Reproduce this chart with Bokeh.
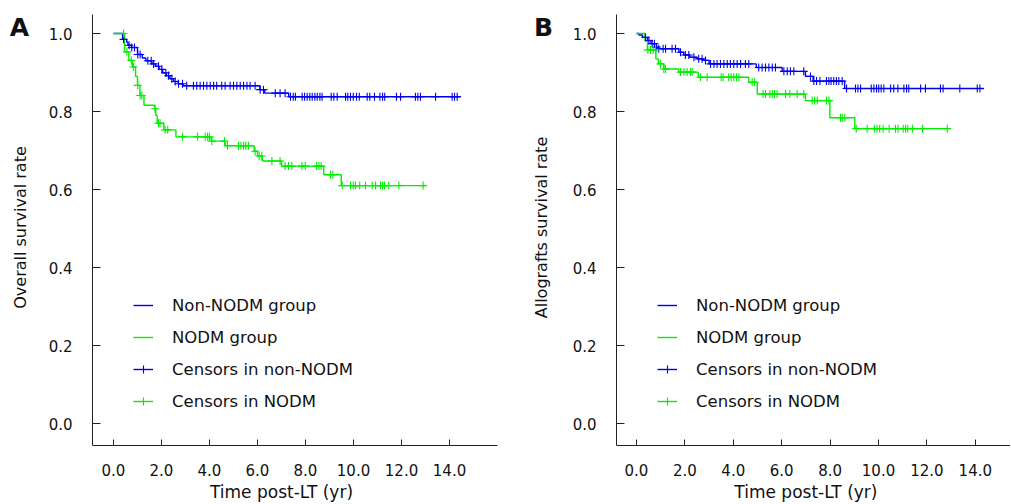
import numpy as np
from bokeh.plotting import figure
from bokeh.layouts import row
from bokeh.models import Range1d, FixedTicker, NumeralTickFormatter, Legend, LegendItem, Label
from bokeh.embed import file_html
from bokeh.resources import INLINE

# ---------------- data ----------------
# Panel A: overall survival
a_non_t = [0, 0.38, 0.55, 0.6, 0.75, 1.0, 1.2, 1.35, 1.6, 1.75, 1.9, 2.05, 2.2, 2.35, 2.5, 2.7, 2.9, 6.1, 6.3, 7.3]
a_non_s = [1.0, 0.985, 0.978, 0.97, 0.964, 0.946, 0.937, 0.93, 0.922, 0.916, 0.908, 0.899, 0.892, 0.884, 0.877, 0.871, 0.866, 0.856, 0.847, 0.838]
a_non_end = 14.46
a_non_cens = [0.42, 0.65, 0.76, 0.875, 1.01, 1.11, 1.43, 1.57, 1.67, 1.875, 2.01, 2.18, 2.29, 2.43, 2.57,
              2.71, 2.875, 3.05, 3.33, 3.47, 3.61, 3.75, 3.89, 4.03, 4.17, 4.3, 4.51, 4.65, 4.86, 5.0, 5.14,
              5.28, 5.42, 5.56, 5.69, 5.9, 6.11, 6.25, 6.74, 6.94, 7.15, 7.375, 7.49, 7.58, 7.86, 7.96,
              8.07, 8.18, 8.28, 8.39, 8.49, 8.6, 8.69, 9.07, 9.18, 9.32, 9.67, 9.76, 9.875, 9.99, 10.125,
              10.24, 10.57, 10.68, 10.875, 11.1, 11.21, 11.3, 11.79, 11.96, 12.58, 12.68, 12.79, 13.42,
              14.11, 14.21, 14.32]

a_nodm_t = [0, 0.46, 0.64, 0.78, 0.92, 1.0, 1.1, 1.27, 1.71, 1.76, 1.82, 2.1, 2.6, 4.07, 4.65, 5.86, 6.0, 6.2, 7.0, 8.76, 9.49]
a_nodm_s = [1.0, 0.953, 0.931, 0.914, 0.89, 0.867, 0.841, 0.816, 0.807, 0.79, 0.77, 0.753, 0.735, 0.724, 0.712, 0.698, 0.686, 0.673, 0.66, 0.638, 0.61]
a_nodm_end = 12.93
a_nodm_cens = [0.42, 0.56, 0.74, 0.83, 1.01, 1.11, 1.18, 1.73, 1.875, 1.94, 2.15, 2.26, 2.875, 3.5, 3.82,
               3.92, 4.0, 4.1, 4.625, 4.75, 5.21, 5.31, 5.42, 5.51, 5.625, 5.9, 6.07, 6.18, 6.6, 6.94,
               7.15, 7.29, 7.43, 7.85, 7.99, 8.46, 8.56, 8.65, 9.04, 9.14, 9.53, 9.875, 9.99, 10.08,
               10.26, 10.5, 10.78, 10.92, 11.125, 11.21, 11.29, 11.47, 11.89, 12.9]

# Panel B: allograft survival
b_non_t = [0, 0.1, 0.25, 0.45, 0.6, 0.75, 0.9, 1.75, 1.95, 2.2, 2.5, 2.75, 3.0, 4.95, 6.02, 6.98, 7.3, 8.6]
b_non_s = [1.0, 0.996, 0.99, 0.982, 0.974, 0.965, 0.961, 0.952, 0.945, 0.939, 0.935, 0.931, 0.922, 0.913, 0.903, 0.89, 0.878, 0.859]
b_non_end = 14.35
b_non_cens = [0.37, 0.51, 0.65, 0.74, 0.83, 0.92, 1.1, 1.2, 1.47, 1.61, 1.82, 2.02, 2.16, 2.37, 2.57, 2.71,
              2.85, 3.06, 3.2, 3.33, 3.47, 3.61, 3.75, 3.88, 4.02, 4.16, 4.3, 4.5, 4.64, 5.05, 5.19, 5.33,
              5.47, 5.61, 5.74, 6.09, 6.23, 6.36, 6.5, 6.91, 7.19, 7.33, 7.44, 7.58, 7.85, 7.95, 8.04,
              8.15, 8.26, 8.36, 8.5, 8.68, 9.05, 9.15, 9.26, 9.7, 9.81, 9.92, 10.01, 10.11, 10.22, 10.5,
              10.63, 10.8, 11.05, 11.16, 11.25, 11.74, 11.94, 12.56, 12.67, 13.36, 14.08, 14.19]

b_nodm_t = [0, 0.35, 0.45, 0.8, 0.9, 1.13, 1.75, 2.55, 4.64, 4.99, 6.98, 7.99, 9.02]
b_nodm_s = [1.0, 0.982, 0.958, 0.935, 0.922, 0.909, 0.901, 0.888, 0.875, 0.845, 0.828, 0.784, 0.756]
b_nodm_end = 12.9
b_nodm_cens = [0.47, 0.58, 0.69, 0.785, 0.99, 1.13, 1.2, 1.82, 1.96, 2.09, 2.23, 2.3, 2.64, 2.92, 3.5,
               3.58, 3.81, 3.91, 4.02, 4.13, 4.23, 4.78, 4.88, 5.23, 5.33, 5.51, 5.61, 5.7, 5.81, 6.16,
               6.34, 6.64, 6.91, 7.26, 7.36, 7.47, 7.85, 7.95, 8.43, 8.5, 8.61, 9.08, 9.53, 9.83, 9.94,
               10.05, 10.19, 10.44, 10.7, 10.81, 11.02, 11.12, 11.21, 11.4, 11.82, 12.84]

x_ticks = [0, 2, 4, 6, 8, 10, 12, 14]
y_ticks = [0.0, 0.2, 0.4, 0.6, 0.8, 1.0]
x_title = "Time post-LT (yr)"
legend_labels = ["Non-NODM group", "NODM group", "Censors in non-NODM", "Censors in NODM"]

BLUE = "#0000F0"
GREEN = "#00EE00"
FONT = "DejaVu Sans"
Y_LO, Y_HI = -0.056, 1.049


def step_at(times, surv, t):
    idx = np.searchsorted(np.asarray(times), np.asarray(t), side="right") - 1
    return list(np.asarray(surv)[idx])


def make_panel(letter, ylabel, groups, width, px_per_yr, zero_px, axis_px, x_hi, ytitle_px, legend_x):
    # frame covers the whole figure; axes are pinned at fixed data locations
    x_lo_frame = -zero_px / px_per_yr
    x_hi_frame = (width - zero_px) / px_per_yr
    px_per_unit = 390.0
    y_lo_frame = (423 - 504) / px_per_unit
    y_hi_frame = 423 / px_per_unit
    x_axis_at = (axis_px - zero_px) / px_per_yr

    p = figure(width=width, height=504, output_backend="svg", toolbar_location=None,
               x_range=Range1d(x_lo_frame, x_hi_frame), y_range=Range1d(y_lo_frame, y_hi_frame),
               min_border_left=0, min_border_right=0, min_border_top=0, min_border_bottom=0)
    p.outline_line_color = None
    p.grid.visible = False
    p.background_fill_color = "white"

    renderers = []
    for times, surv, end, cens, color in groups:
        xs = list(times) + [end]
        ys = list(surv) + [surv[-1]]
        r = p.step(xs, ys, mode="after", line_color=color, line_width=1.4)
        renderers.append(r)
    cens_r = []
    for times, surv, end, cens, color in groups:
        cy = step_at(times, surv, cens)
        c = p.scatter(cens, cy, marker="cross", size=8, line_color=color, line_width=1.1)
        cens_r.append(c)

    items = [
        LegendItem(label=legend_labels[0], renderers=[renderers[0]]),
        LegendItem(label=legend_labels[1], renderers=[renderers[1]]),
        LegendItem(label=legend_labels[2], renderers=[renderers[0], cens_r[0]]),
        LegendItem(label=legend_labels[3], renderers=[renderers[1], cens_r[1]]),
    ]
    leg = Legend(items=items, location=(legend_x, 93), padding=0, margin=0, spacing=12,
                 glyph_width=20, glyph_height=20, label_height=20, label_standoff=19,
                 border_line_color=None, background_fill_alpha=0,
                 label_text_font=FONT, label_text_font_size="16.5px", label_text_color="#111111")
    p.add_layout(leg, "center")

    for ax in (p.xaxis[0], p.yaxis[0]):
        ax.axis_line_color = "#222222"
        ax.major_tick_line_color = "#222222"
        ax.minor_tick_line_color = None
        ax.major_tick_out = 0
        ax.major_label_text_font = FONT
        ax.major_label_text_font_size = "15px"
        ax.major_label_text_color = "#111111"
        ax.formatter = NumeralTickFormatter(format="0.0")
    p.xaxis.ticker = FixedTicker(ticks=x_ticks)
    p.yaxis.ticker = FixedTicker(ticks=y_ticks)
    p.xaxis.fixed_location = Y_LO
    p.xaxis.bounds = (x_axis_at, x_hi)
    p.yaxis.fixed_location = x_axis_at
    p.yaxis.bounds = (Y_LO, Y_HI)
    p.xaxis.major_tick_in = 6
    p.yaxis.major_tick_in = 8
    p.xaxis.major_label_standoff = 19
    p.yaxis.major_label_standoff = 20

    # axis titles and panel letter (anchor positions in canvas pixels)
    p.add_layout(Label(x=float(np.mean([x_ticks[0], x_ticks[-1]])), y=(423 - 491) / px_per_unit,
                       text=x_title, text_font=FONT, text_font_size="17px",
                       text_align="center", text_baseline="alphabetic", text_color="#111111"))
    p.add_layout(Label(x=(ytitle_px - zero_px) / px_per_yr, y=(423 - 227) / px_per_unit,
                       text=ylabel, angle=np.pi / 2, text_font=FONT, text_font_size="16px",
                       text_align="center", text_baseline="alphabetic", text_color="#111111"))
    letter_px = axis_px - 73
    p.add_layout(Label(x=(letter_px - zero_px) / px_per_yr, y=(423 - 27) / px_per_unit,
                       text=letter, text_font=FONT, text_font_style="bold", text_font_size="25px",
                       text_align="center", text_baseline="alphabetic", text_color="#111111"))
    return p


pA = make_panel("A", "Overall survival rate",
                [(a_non_t, a_non_s, a_non_end, a_non_cens, BLUE),
                 (a_nodm_t, a_nodm_s, a_nodm_end, a_nodm_cens, GREEN)],
                508, 24.0, 113, 92, 16.0, 20, 133)
pB = make_panel("B", "Allografts survival rate",
                [(b_non_t, b_non_s, b_non_end, b_non_cens, BLUE),
                 (b_nodm_t, b_nodm_s, b_nodm_end, b_nodm_cens, GREEN)],
                502, 24.2, 128, 108, 15.45, 541 - 508, 149)

layout = row(pA, pB)
open("out.html", "w").write(file_html(layout, INLINE))
